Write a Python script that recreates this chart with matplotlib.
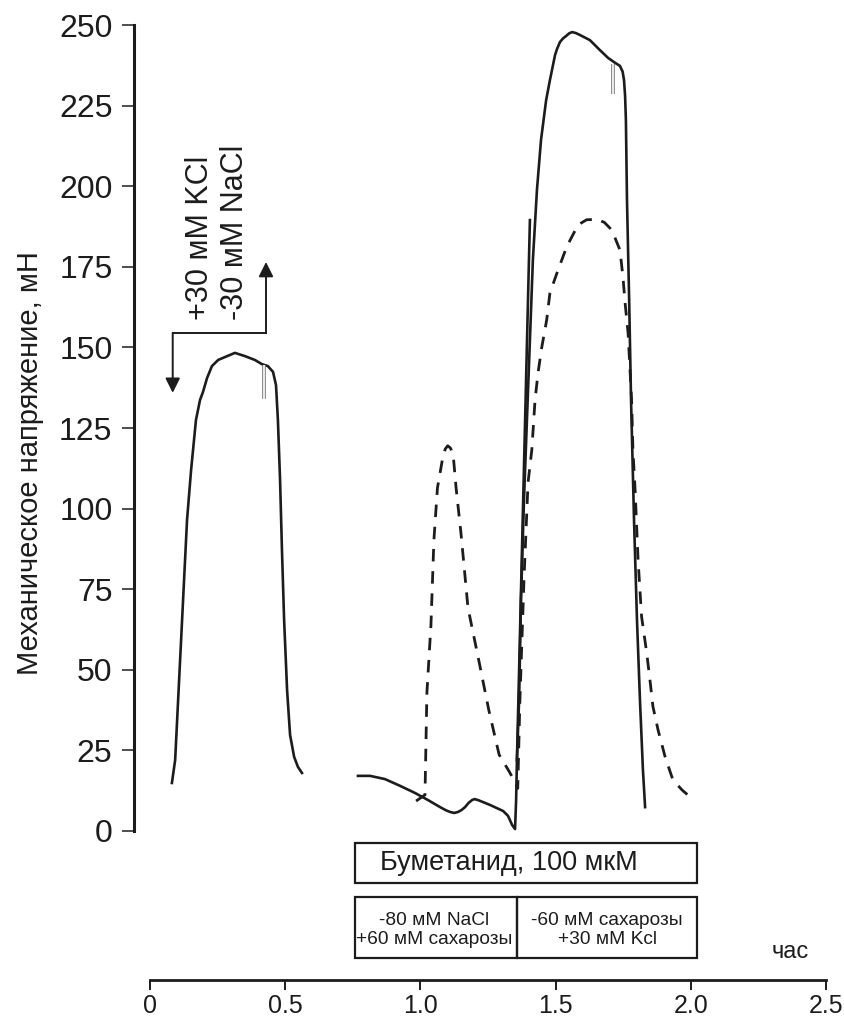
import matplotlib
matplotlib.use("Agg")
import matplotlib.pyplot as plt
from matplotlib import font_manager
from matplotlib.patches import Rectangle

plt.rcParams['font.family'] = ['Liberation Sans', 'DejaVu Sans']

_names = {f.name for f in font_manager.fontManager.ttflist}
NARROW = 'Liberation Sans Narrow' if 'Liberation Sans Narrow' in _names else 'Liberation Sans'

# ---- data: time (h) and tension (mN) ----
# control contraction (+30 mM KCl / -30 mM NaCl)
t_ctrl = [0.081, 0.093, 0.104, 0.115, 0.126, 0.137, 0.152, 0.170, 0.185, 0.196,
          0.211, 0.229, 0.252, 0.277, 0.314, 0.351, 0.388, 0.414, 0.436, 0.455,
          0.466, 0.473, 0.481, 0.488, 0.496, 0.507, 0.518, 0.533, 0.547, 0.562]
v_ctrl = [14.9, 22.0, 40.6, 59.2, 77.9, 96.5, 112.0, 127.5, 133.7, 136.2,
          140.5, 144.2, 146.1, 147.0, 148.3, 147.3, 146.1, 144.8, 144.2, 142.4,
          138.3, 127.5, 108.9, 87.2, 65.4, 43.7, 29.8, 23.0, 19.9, 18.0]

# bumetanide record (solid)
t_bum = [0.769, 0.814, 0.869, 0.925, 0.980, 1.028, 1.073, 1.095, 1.110, 1.125,
         1.139, 1.152, 1.165, 1.178, 1.191, 1.200, 1.213, 1.257, 1.306, 1.324,
         1.339, 1.350, 1.354, 1.357, 1.365, 1.372, 1.383, 1.394, 1.405, 1.416,
         1.431, 1.446, 1.465, 1.479, 1.498, 1.505, 1.516, 1.527, 1.539, 1.550,
         1.561, 1.575, 1.590, 1.627, 1.664, 1.694, 1.716, 1.738, 1.748, 1.753,
         1.757, 1.760, 1.764, 1.772, 1.779, 1.790, 1.801, 1.812, 1.823, 1.831]
v_bum = [17.1, 17.1, 16.1, 14.0, 11.8, 9.6, 7.4, 6.4, 5.9, 5.6,
         5.9, 6.5, 7.4, 8.7, 9.6, 9.9, 9.6, 8.1, 6.2, 4.7,
         1.9, 0.6, 9.6, 22.0, 40.6, 71.6, 102.7, 127.5, 152.3, 177.1,
         198.8, 214.3, 226.7, 232.9, 240.7, 242.5, 244.7, 245.8, 246.6, 247.4,
         247.8, 247.5, 246.9, 245.3, 242.2, 239.8, 238.5, 237.3, 235.5, 232.9,
         228.0, 220.5, 195.7, 164.7, 133.7, 96.5, 65.4, 40.6, 18.9, 7.4]

# short solid rising segment
t_seg = [1.357, 1.405]
v_seg = [22.0, 189.5]

# control record without bumetanide (dashed)
t_dash = [0.984, 1.017, 1.024, 1.039, 1.050, 1.063, 1.083, 1.092, 1.101, 1.111,
          1.121, 1.132, 1.150, 1.176, 1.215, 1.253, 1.291, 1.328, 1.346, 1.360,
          1.368, 1.383, 1.398, 1.412, 1.424, 1.435, 1.449, 1.467, 1.479, 1.509,
          1.541, 1.583, 1.615, 1.652, 1.680, 1.708, 1.738, 1.749, 1.757, 1.768,
          1.781, 1.786, 1.794, 1.805, 1.818, 1.837, 1.849, 1.860, 1.879, 1.905,
          1.934, 1.968, 1.997, 2.005]
v_dash = [9.3, 11.2, 42.8, 63.9, 90.3, 106.4, 116.0, 118.5, 119.5, 118.8,
          116.9, 106.4, 92.4, 69.2, 53.3, 37.5, 23.7, 18.5, 15.8, 13.2,
          40.6, 77.9, 108.0, 118.2, 133.7, 142.1, 150.1, 158.5, 166.9, 174.0,
          181.2, 188.0, 189.6, 189.7, 188.8, 186.4, 180.2, 171.9, 163.8, 154.5,
          133.7, 118.2, 105.8, 84.1, 66.5, 55.2, 46.8, 38.6, 31.3, 23.0,
          15.8, 12.7, 10.6, 9.0]

# recording artefacts (time, top, bottom)
artefacts = [(0.4216, 144.5, 134.0), (1.712, 238.0, 228.5)]

# treatment periods (h)
bumetanide_period = (0.758, 2.022)
solution_switch = 1.356

y_ticks = [0, 25, 50, 75, 100, 125, 150, 175, 200, 225, 250]
x_ticks = [0, 0.5, 1.0, 1.5, 2.0, 2.5]
x_ticklabels = ['0', '0.5', '1.0', '1.5', '2.0', '2.5']

# ---- figure ----
W, H = 845, 1021
fig = plt.figure(figsize=(W / 100, H / 100), dpi=100)

def fx(px):
    return px / W

def fy(py):
    return 1 - py / H

INK = '#1c1c1c'

ax = fig.add_axes([fx(134), fy(831), fx(826) - fx(134), fy(25) - fy(831)])
ax.set_xlim(-16 / 270.4, 2.5)
ax.set_ylim(0, 250)
for s in ('top', 'right', 'bottom'):
    ax.spines[s].set_visible(False)
ax.spines['left'].set_linewidth(2.2)
ax.spines['left'].set_color(INK)
ax.set_xticks([])
ax.set_yticks(y_ticks)
ax.tick_params(axis='y', direction='out', length=8.5, width=1.1, pad=7,
               labelsize=23, colors=INK)
ax.patch.set_alpha(0)

# traces
ax.plot(t_ctrl, v_ctrl, color=INK, lw=1.9, solid_joinstyle='round', clip_on=False)
ax.plot(t_bum, v_bum, color=INK, lw=1.9, solid_joinstyle='round', clip_on=False)
ax.plot(t_seg, v_seg, color=INK, lw=1.9, clip_on=False)
ax.plot(t_dash, v_dash, color=INK, lw=2.0, dashes=(4.5, 3.5), clip_on=False)

for t, top, bot in artefacts:
    ax.plot([t, t], [top, bot], color='#777777', lw=2.6, solid_capstyle='butt')
    ax.plot([t, t], [top, bot], color='white', lw=1.2, solid_capstyle='butt')

# stimulus marks
xl, xr, yh = 0.084, 0.429, 154.5
ax.plot([xl, xr], [yh, yh], color=INK, lw=1.4)
arrow = dict(arrowstyle='-|>', color=INK, lw=1.4, mutation_scale=22,
             shrinkA=0, shrinkB=0)
ax.annotate('', xy=(xl, 135.9), xytext=(xl, yh), arrowprops=arrow)
ax.annotate('', xy=(xr, 176.5), xytext=(xr, yh), arrowprops=arrow)
ax.text(0.185, 158.5, '+30 мМ KCl', rotation=90, rotation_mode='anchor',
        ha='left', va='center', fontsize=22, color=INK)
ax.text(0.314, 158.5, '-30 мМ NaCl', rotation=90, rotation_mode='anchor',
        ha='left', va='center', fontsize=22, color=INK)

# treatment boxes (below the trace axis)
def vy(py):
    return (831 - py) / 3.224

b0, b1 = bumetanide_period
box_kw = dict(fill=False, ec=INK, lw=1.6, clip_on=False)
ax.add_patch(Rectangle((b0, vy(882.7)), b1 - b0, vy(843.3) - vy(882.7), **box_kw))
ax.add_patch(Rectangle((b0, vy(958.3)), solution_switch - b0, vy(896.7) - vy(958.3), **box_kw))
ax.add_patch(Rectangle((solution_switch, vy(958.3)), b1 - solution_switch,
                       vy(896.7) - vy(958.3), **box_kw))
ax.text((380 - 150) / 270.4, vy(863), 'Буметанид, 100 мкМ', ha='left', va='center',
        fontsize=19.5, color=INK, clip_on=False)
ax.text((434 - 150) / 270.4, vy(930), '-80 мМ NaCl\n+60 мМ сахарозы', ha='center',
        va='center', fontsize=13.8, linespacing=1.15, color=INK, clip_on=False)
ax.text((607 - 150) / 270.4, vy(930), '-60 мМ сахарозы\n+30 мМ Kcl', ha='center',
        va='center', fontsize=13.8, linespacing=1.15, color=INK, clip_on=False)

# time axis
axt = fig.add_axes([fx(150), fy(980), fx(826) - fx(150), 0.0001])
axt.set_xlim(0, 2.5)
axt.set_yticks([])
for s in ('top', 'right', 'left'):
    axt.spines[s].set_visible(False)
axt.spines['bottom'].set_linewidth(2.0)
axt.spines['bottom'].set_color(INK)
axt.set_xticks(x_ticks)
axt.set_xticklabels(x_ticklabels, fontsize=18, family=NARROW)
axt.tick_params(axis='x', direction='out', length=7, width=1.4, pad=3, colors=INK)
axt.patch.set_alpha(0)

fig.text(fx(790), fy(952), 'час', ha='center', va='center', fontsize=17, color=INK)
fig.text(fx(30), fy(463), 'Механическое напряжение, мН', rotation=90, ha='center',
         va='center', fontsize=21, family=NARROW, color=INK)

fig.savefig('out.png', dpi=100, facecolor='white')
